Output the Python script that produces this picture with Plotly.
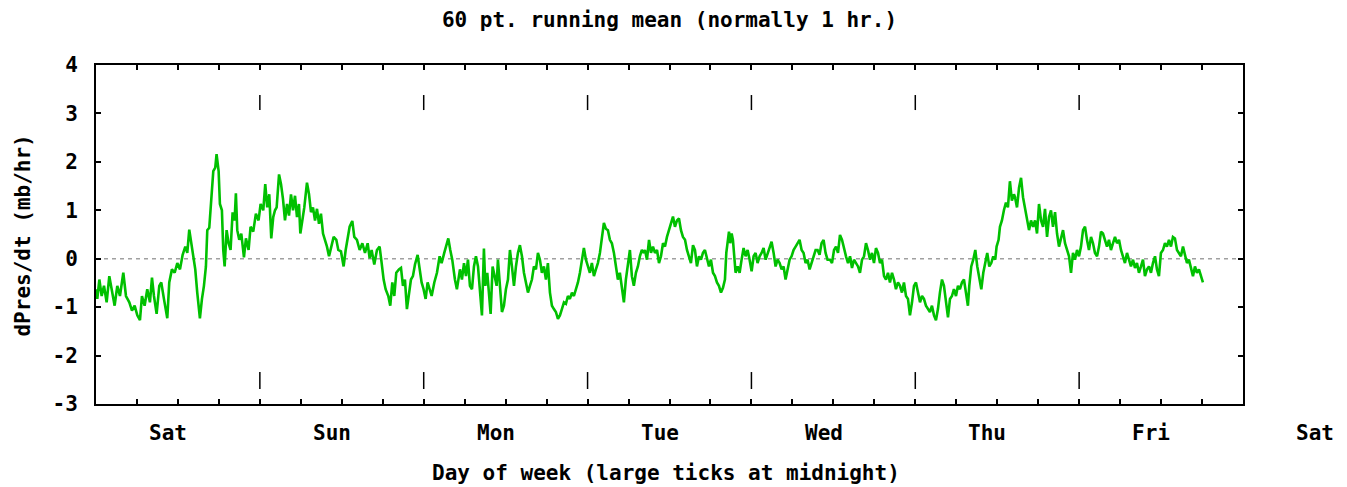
import plotly.graph_objects as go

# ---- data: hours since Saturday 00:00, dPres/dt in mb/hr (60 pt running mean) ----
hours_sat = [0.00,0.19,0.49,0.83,1.17,1.56,1.95,2.34,2.73,3.12,3.51,4.00,4.39,4.88,5.27,5.66,6.05,6.44,6.73,7.12,
             7.51,7.90,8.20,8.49,8.88,9.27,9.56,9.95,10.44,10.73,11.12,11.52,11.91,12.30,12.69,13.08,13.37,13.66,13.96,14.25,
             14.54,14.83,15.22,15.52,15.81,16.10,16.30,16.59,16.88,17.18,17.47,17.66,17.96,18.15,18.44,18.64,18.84,19.13,19.42,19.71,
             20.01,20.30,20.49,20.69,20.98,21.28,21.67,21.96,22.35,22.64,23.03,23.42,23.81,24.11,24.50,24.79,25.08,25.38,25.67,25.96]
vals_sat = [-0.63,-0.83,-0.43,-0.77,-0.56,-0.90,-0.36,-0.70,-0.97,-0.56,-0.77,-0.29,-0.77,-0.90,-1.07,-0.97,-1.17,-1.27,-0.77,-0.97,
            -0.63,-0.90,-0.39,-0.77,-1.14,-0.56,-0.49,-0.83,-1.23,-0.49,-0.22,-0.29,-0.09,-0.22,0.08,0.25,0.12,0.60,0.32,-0.02,
            -0.22,-0.70,-1.23,-0.83,-0.56,-0.16,0.59,0.64,1.13,1.81,1.88,2.16,1.81,1.13,1.00,0.18,-0.16,0.59,0.32,0.18,
            0.96,0.79,1.35,0.59,0.39,0.52,0.03,0.42,0.18,0.66,0.56,0.93,0.79,1.13,1.00,1.54,1.06,1.33,0.42,0.86]

hours_sun = [26.22,26.46,26.81,27.10,27.39,27.68,27.98,28.27,28.56,28.86,29.15,29.44,29.73,29.93,30.22,30.51,30.90,31.20,31.49,31.78,
             32.08,32.37,32.66,32.95,33.25,33.54,33.83,34.13,34.42,34.81,35.20,35.49,35.88,36.27,36.57,36.86,37.15,37.54,37.83,38.22,
             38.62,39.01,39.40,39.79,40.08,40.37,40.76,41.15,41.54,41.84,42.13,42.42,42.81,43.10,43.40,43.69,43.98,44.37,44.67,44.96,
             45.25,45.54,45.84,46.13,46.42,46.72,47.11,47.40,47.69,47.98,48.28,48.57,48.86,49.16,49.55,49.94,50.33,50.62,51.01,51.30,
             51.60,51.89,52.18,52.57,52.86,53.16]
vals_sun = [1.00,1.06,1.74,1.54,1.23,0.79,1.13,0.89,1.33,1.00,1.30,0.86,1.13,0.52,0.79,1.06,1.57,1.33,0.96,1.06,
            0.79,1.03,0.72,0.93,0.52,0.39,0.25,0.05,0.25,0.45,0.39,0.18,0.15,-0.16,0.18,0.45,0.66,0.78,0.45,0.39,
            0.18,0.32,0.12,0.32,0.01,0.18,-0.12,0.18,0.25,-0.09,-0.43,-0.63,-0.77,-0.97,-0.49,-0.77,-0.29,-0.22,-0.19,-0.56,
            -0.43,-1.04,-0.70,-0.43,-0.36,-0.12,0.08,-0.16,-0.49,-0.63,-0.83,-0.49,-0.66,-0.77,-0.49,-0.29,0.05,-0.09,0.12,0.25,
            0.42,0.18,-0.02,-0.43,-0.63,-0.36]

hours_mon = [53.31,53.60,53.90,54.19,54.48,54.77,55.07,55.36,55.65,55.95,56.24,56.53,56.82,57.02,57.31,57.60,57.80,58.09,58.39,58.68,
             58.87,59.17,59.46,59.75,60.04,60.34,60.63,60.92,61.22,61.51,61.80,62.09,62.39,62.68,62.97,63.27,63.56,63.85,64.14,64.44,
             64.73,65.02,65.31,65.61,65.90,66.19,66.49,66.78,67.07,67.36,67.66,67.95,68.24,68.54,68.83,69.12,69.41,69.71,70.00,70.29,
             70.59,70.88,71.17,71.46,71.76,72.05,72.34,72.63,72.93,73.22,73.51,73.81,74.10,74.39,74.68,74.98,75.27,75.56,75.86,76.15,
             76.44,76.73,77.03,77.32,77.61,77.91,78.20,78.49,78.78,79.08,79.37,79.66,79.95,80.25]
vals_mon = [-0.22,-0.43,-0.09,-0.36,-0.02,-0.56,-0.63,-0.16,0.05,-0.16,-0.70,-1.17,0.21,-0.56,-0.29,-0.77,-1.14,-0.16,-0.36,-0.56,
            -0.02,-0.49,-1.10,-0.97,-0.63,-0.43,0.18,-0.16,-0.56,-0.16,0.12,0.28,0.05,-0.29,-0.49,-0.70,-0.56,-0.43,-0.16,-0.22,
            0.12,-0.02,-0.29,-0.16,-0.43,-0.09,-0.70,-0.97,-1.04,-1.10,-1.24,-1.17,-1.04,-0.90,-0.93,-0.77,-0.83,-0.70,-0.77,-0.63,
            -0.49,-0.29,-0.02,0.22,-0.02,-0.16,-0.29,-0.09,-0.36,-0.22,-0.09,0.12,0.39,0.74,0.62,0.59,0.39,0.32,0.12,-0.16,
            -0.43,-0.29,-0.63,-0.90,-0.43,-0.16,0.18,-0.36,-0.56,-0.29,-0.16,0.05,0.18,0.12]

hours_tue = [80.41,80.70,81.00,81.29,81.58,81.87,82.17,82.46,82.75,83.05,83.34,83.63,83.92,84.22,84.51,84.80,85.10,85.39,85.68,85.97,
             86.27,86.56,86.85,87.14,87.44,87.73,88.02,88.32,88.61,88.90,89.19,89.49,89.78,90.07,90.37,90.66,90.95,91.24,91.54,91.83,
             92.12,92.32,92.51,92.71,92.90,93.10,93.29,93.49,93.68,93.98,94.27,94.56,94.85,95.15,95.44,95.73,96.03,96.32,96.61,96.90,
             97.20,97.49,97.78,98.08,98.37,98.66,98.95,99.25,99.54,99.83,100.13,100.42,100.71,101.00,101.30,101.59,101.88,102.17,102.47,102.76,
             103.05,103.35,103.64,103.93,104.22,104.52,104.81,105.10,105.40,105.69,105.98,106.27,106.57,106.86,107.15]
vals_tue = [0.18,-0.02,0.39,0.12,0.25,0.12,0.18,-0.09,0.05,0.32,0.25,0.45,0.59,0.72,0.87,0.66,0.79,0.83,0.59,0.45,
            0.39,0.18,0.05,-0.09,0.28,0.18,-0.16,0.05,-0.02,0.12,0.18,-0.02,-0.16,-0.02,-0.29,-0.36,-0.49,-0.56,-0.70,-0.60,
            -0.43,0.12,0.39,0.56,0.32,0.52,0.39,0.05,-0.29,-0.16,-0.29,-0.02,0.22,0.05,0.18,-0.02,-0.26,0.05,0.12,-0.09,
            0.05,0.12,0.22,-0.02,0.12,0.25,0.35,0.12,-0.16,-0.02,-0.09,-0.22,-0.16,-0.43,-0.22,-0.02,0.05,0.18,0.25,0.32,
            0.39,0.18,0.12,-0.09,-0.02,-0.22,-0.09,0.05,0.18,0.18,0.08,0.32,0.39,0.12,-0.02]

hours_wed = [107.51,107.80,108.10,108.39,108.68,108.97,109.27,109.56,109.85,110.15,110.44,110.73,111.02,111.32,111.61,111.90,112.20,112.49,112.78,113.07,
             113.37,113.66,113.95,114.24,114.54,114.83,115.12,115.42,115.71,116.00,116.29,116.59,116.88,117.17,117.47,117.76,118.05,118.34,118.64,118.93,
             119.22,119.52,119.81,120.10,120.39,120.69,120.98,121.27,121.56,121.86,122.15,122.44,122.74,123.03,123.32,123.61,123.91,124.20,124.49,124.79,
             125.08,125.37,125.66,125.96,126.25,126.54,126.84,127.13,127.42,127.71,127.91,128.20,128.49,128.79,129.08,129.37,129.67,129.96,130.25,130.54,
             130.84,131.13,131.42,131.71,131.91,132.20,132.40,132.69,132.98,133.28,133.57,133.86,134.15,134.45]
vals_wed = [-0.02,-0.09,0.18,0.25,0.12,0.49,0.39,0.18,0.05,-0.09,0.05,-0.19,-0.02,-0.09,-0.16,-0.29,-0.02,0.05,0.32,0.18,
            -0.02,0.12,-0.09,0.22,0.12,-0.09,-0.02,-0.36,-0.43,-0.29,-0.49,-0.29,-0.43,-0.63,-0.49,-0.56,-0.70,-0.49,-0.77,-0.83,
            -1.17,-0.90,-0.56,-0.49,-0.70,-0.90,-0.77,-0.83,-0.97,-1.04,-1.10,-0.97,-1.17,-1.27,-1.04,-0.70,-0.43,-0.56,-0.83,-1.21,
            -0.83,-0.77,-0.63,-0.77,-0.56,-0.63,-0.49,-0.43,-0.70,-0.97,-0.56,-0.16,-0.02,0.18,-0.16,-0.36,-0.63,-0.29,-0.09,0.12,
            -0.16,-0.09,0.05,-0.02,0.25,0.39,0.66,0.79,1.00,1.16,1.06,1.60,1.20,1.33]

hours_thu = [134.61,134.90,135.20,135.49,135.78,136.07,136.37,136.66,136.95,137.25,137.54,137.83,138.12,138.42,138.71,139.00,139.30,139.59,139.88,140.17,
             140.47,140.76,141.05,141.34,141.64,141.93,142.22,142.52,142.81,143.10,143.39,143.69,143.98,144.27,144.57,144.86,145.15,145.44,145.74,146.03,
             146.32,146.62,146.91,147.20,147.49,147.79,148.08,148.37,148.66,148.96,149.25,149.54,149.84,150.13,150.42,150.71,151.01,151.30,151.59,151.89,
             152.18,152.47,152.76,153.06,153.35,153.64,153.94,154.23,154.52,154.81,155.11,155.40,155.69,155.98,156.28,156.57,156.86,157.16,157.45,157.74,
             158.03,158.33,158.62,158.91,159.21,159.50,159.79,160.08,160.38,160.67,160.96,161.25,161.55,161.84,162.13]
vals_thu = [1.27,1.06,1.47,1.67,1.27,1.06,0.79,0.59,0.79,0.66,0.79,0.52,1.13,0.79,0.66,1.03,0.45,0.86,1.00,0.66,
            0.96,0.52,0.25,0.39,0.59,0.32,0.18,0.05,-0.29,0.12,-0.02,0.18,0.05,0.25,0.59,0.66,0.39,0.18,0.45,0.32,
            0.12,0.05,0.25,0.56,0.52,0.39,0.25,0.39,0.18,0.32,0.45,0.32,0.39,0.18,0.05,-0.09,0.12,-0.02,-0.16,-0.02,
            -0.19,-0.09,-0.29,-0.16,-0.02,-0.36,-0.22,-0.16,-0.29,-0.09,0.05,-0.22,-0.36,0.12,0.18,0.32,0.25,0.39,0.25,0.45,
            0.42,0.18,0.12,0.05,0.25,0.08,-0.09,-0.02,-0.22,-0.36,-0.16,-0.29,-0.22,-0.36,-0.49]

day_names = ["Sat", "Sun", "Mon", "Tue", "Wed", "Thu", "Fri", "Sat"]
midnights = [1, 2, 3, 4, 5, 6]
y_ticks = [-3, -2, -1, 0, 1, 2, 3, 4]

# ---- build ----
hours = hours_sat + hours_sun + hours_mon + hours_tue + hours_wed + hours_thu
vals = vals_sat + vals_sun + vals_mon + vals_tue + vals_wed + vals_thu
days = [h / 24.0 for h in hours]

FONT = "DejaVu Sans Mono"
FS = 21
TXT = dict(family=FONT, size=FS, color="black", weight="bold")

fig = go.Figure()
fig.add_trace(go.Scatter(x=days, y=vals, mode="lines",
                         line=dict(color="#00c000", width=2.6), hoverinfo="skip"))

shapes = [dict(type="line", xref="paper", yref="y", x0=0, x1=1, y0=0, y1=0,
               line=dict(color="#a0a0a0", width=1.5, dash="4px,4px"), layer="below")]
for m in midnights:
    shapes.append(dict(type="line", xref="x", yref="y", x0=m, x1=m, y0=-2.34, y1=-2.69,
                       line=dict(color="black", width=1.5)))
    shapes.append(dict(type="line", xref="x", yref="y", x0=m, x1=m, y0=3.07, y1=3.38,
                       line=dict(color="black", width=1.5)))

annotations = []
for i, name in enumerate(day_names):
    annotations.append(dict(text=name, xref="paper", yref="paper", x=(i + 0.44) / 7.0, y=-0.087,
                            xanchor="center", yanchor="middle", showarrow=False, font=TXT))
annotations.append(dict(text="Day of week (large ticks at midnight)", xref="paper", yref="paper",
                        x=0.497, y=-0.2035, xanchor="center", yanchor="middle", showarrow=False,
                        font=TXT))
annotations.append(dict(text="dPres/dt (mb/hr)", xref="paper", yref="paper",
                        x=-0.0645, y=0.497, xanchor="center", yanchor="middle", textangle=-90,
                        showarrow=False, font=TXT))

fig.update_layout(
    width=1347, height=487,
    margin=dict(l=96, r=104, t=65, b=83),
    paper_bgcolor="white", plot_bgcolor="white",
    showlegend=False,
    font=TXT,
    title=dict(text="60 pt. running mean (normally 1 hr.)", x=0.497, xanchor="center",
               yref="container", y=1 - 20 / 487, yanchor="middle", font=TXT),
    shapes=shapes, annotations=annotations,
)
fig.update_xaxes(range=[0, 7], tickvals=[i * 0.25 for i in range(29)], showticklabels=False,
                 ticks="inside", ticklen=5, tickwidth=1.5, tickcolor="black",
                 showline=True, linecolor="black", linewidth=2, mirror="ticks",
                 showgrid=False, zeroline=False)
fig.update_yaxes(range=[-3, 4], tickvals=y_ticks, ticktext=[str(v) for v in y_ticks],
                 ticks="inside", ticklen=5, tickwidth=1.5, tickcolor="black",
                 ticklabelstandoff=12,
                 showline=True, linecolor="black", linewidth=2, mirror="ticks",
                 showgrid=False, zeroline=False, tickfont=TXT)

fig.write_html("out.html")
